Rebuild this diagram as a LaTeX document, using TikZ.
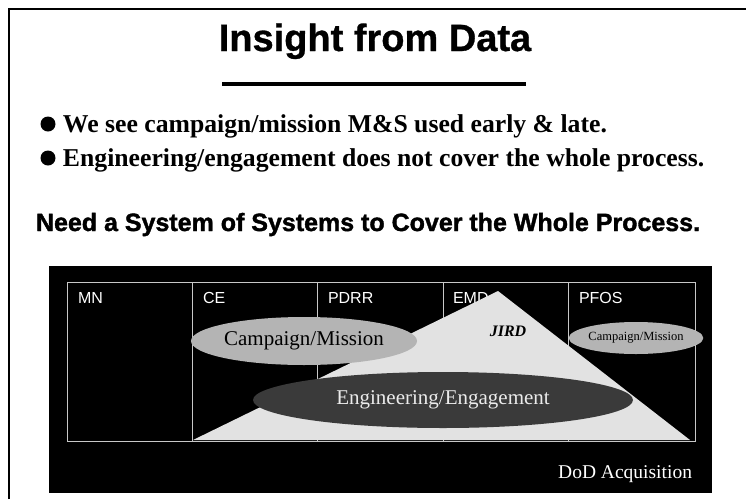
\documentclass[tikz,border=0pt]{standalone}
\usepackage{fontspec}
\setmainfont{Liberation Serif}
\setsansfont{Liberation Sans}
\newfontfamily\heavysans{Liberation Sans}[BoldFeatures={FakeBold=1.5}]
\newfontfamily\titlesans{Liberation Sans}[BoldFeatures={FakeBold=0.8}]
\usetikzlibrary{shapes.geometric}

\definecolor{gridgray}{HTML}{C8C8C8}
\definecolor{lensgray}{HTML}{B4B4B4}
\definecolor{darklens}{HTML}{3A3A3A}
\definecolor{paleshade}{HTML}{E2E2E2}

\begin{document}
\begin{tikzpicture}[x=1pt,y=-1pt,
  every node/.style={inner sep=0pt, outer sep=0pt},
  bullettext/.style={anchor=base west, font=\bfseries\fontsize{25.7}{26}\selectfont},
  bulletdot/.style={circle, fill=black, minimum size=15pt},
  phaselabel/.style={anchor=base west, text=white, font=\sffamily\fontsize{16}{16}\selectfont},
  gridline/.style={draw=gridgray, line width=0.9pt},
  lens/.style={ellipse, draw=none}
]
\fill[white] (0,0) rectangle (748,499);
\useasboundingbox (0,0) rectangle (748,499);

% slide frame (left and top edges)
\draw[line width=2pt] (9,499) -- (9,9) -- (746,9);

% heading and its rule
\node[anchor=base, font=\titlesans\bfseries\fontsize{38}{40}\selectfont] (title) at (375,51) {Insight from Data};
\draw[line width=4pt] (222,84) -- (526,84);

% bullet points
\node[bulletdot] (dot1) at (48,124) {};
\node[bullettext] (line1) at (63,132) {We see campaign/mission M\&S used early \& late.};
\node[bulletdot] (dot2) at (48,158) {};
\node[bullettext] (line2) at (63,166) {Engineering/engagement does not cover the whole process.};

% conclusion line
\node[anchor=base west, font=\heavysans\bfseries\fontsize{25}{25}\selectfont] (need) at (36,231)
  {Need a System of Systems to Cover the Whole Process.};

% acquisition chart panel
\fill[black] (49,266) rectangle (712,493);
\draw[gridline] (67,282) rectangle (695,441);
\foreach \xx in {192,317,443,568}
  \draw[gridline] (\xx,282) -- (\xx,441);

\node[phaselabel] (mn)   at (78,303)  {MN};
\node[phaselabel] (ce)   at (203,303) {CE};
\node[phaselabel] (pdrr) at (328,303) {PDRR};
\node[phaselabel] (emd)  at (453,303) {EMD};
\node[phaselabel] (pfos) at (579,303) {PFOS};

% JIRD triangle
\fill[paleshade] (193,440) -- (498,291) -- (690,440) -- cycle;
\node[font=\bfseries\itshape\fontsize{16}{16}\selectfont] (jird) at (508,331) {JIRD};

% M&S lenses
\node[lens, fill=lensgray, minimum width=225pt, minimum height=48pt,
      font=\fontsize{21}{21}\selectfont] (camp1) at (304,341) {Campaign/Mission};
\node[lens, fill=lensgray, minimum width=127pt, minimum height=32pt,
      font=\fontsize{12.5}{12.5}\selectfont] (camp2) at (636,338) {Campaign/Mission};
\node[lens, fill=darklens, minimum width=380pt, minimum height=56pt, text=black!8,
      font=\fontsize{21}{21}\selectfont] (eng) at (443,400) {Engineering/Engagement};

% panel caption
\node[anchor=base east, text=white, font=\fontsize{19.5}{20}\selectfont] (dod) at (692,478) {DoD Acquisition};
\end{tikzpicture}
\end{document}
